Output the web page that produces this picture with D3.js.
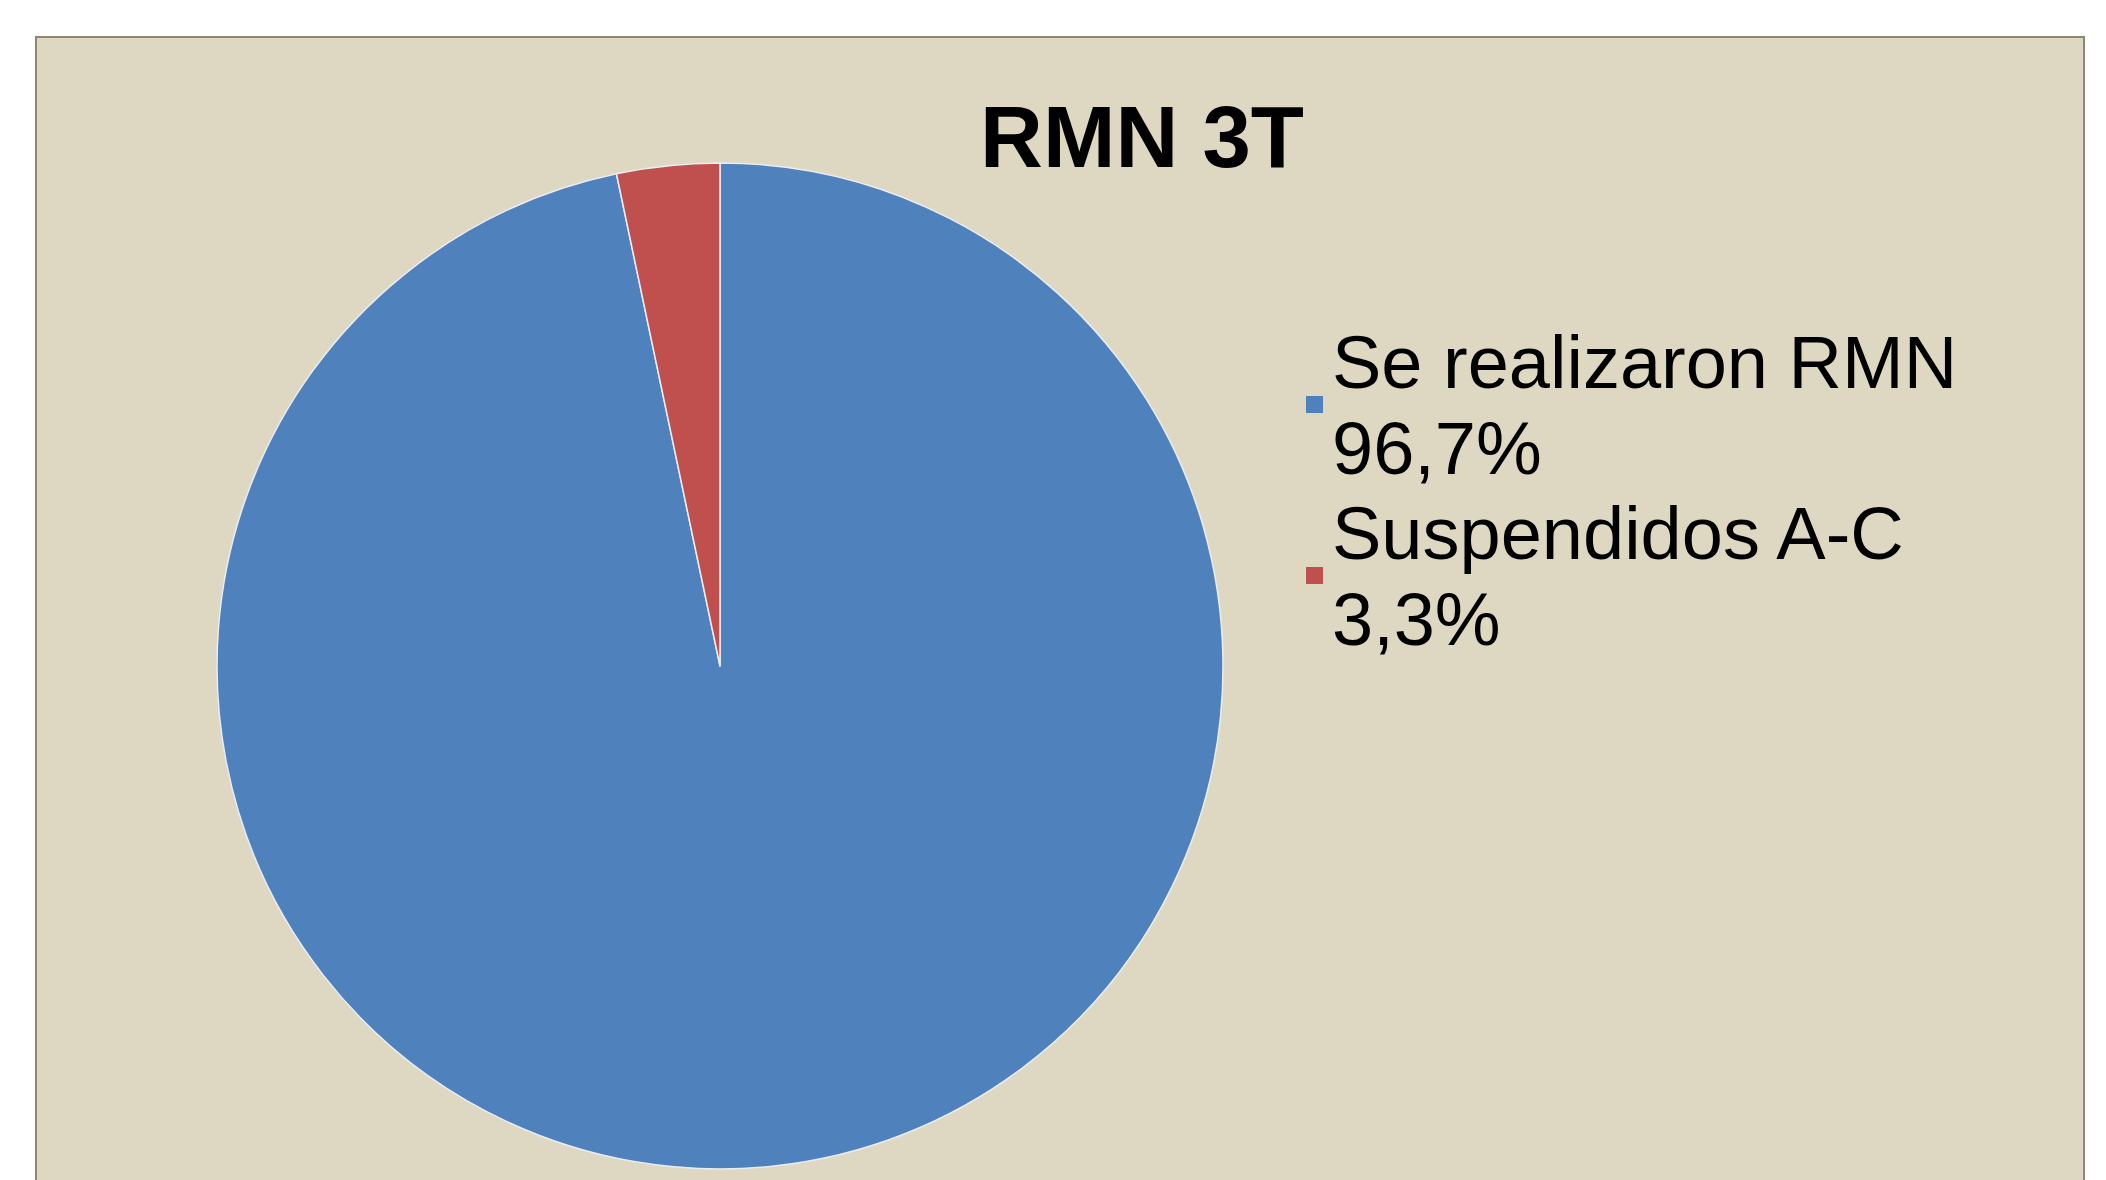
<!DOCTYPE html>
<html>
<head>
<meta charset="utf-8">
<script src="https://d3js.org/d3.v7.min.js"></script>
<style>
  html, body { margin: 0; padding: 0; background: #ffffff; }
  svg { display: block; }
  .title { font-family: "Liberation Sans", Arial, sans-serif; font-weight: bold; font-size: 87px; fill: #000; }
  .legend text { font-family: "Liberation Sans", Arial, sans-serif; font-size: 74px; fill: #000; }
</style>
</head>
<body>
<svg id="myGraph" width="2106" height="1180"></svg>
<script>
// data
var categories = ["Se realizaron RMN", "Suspendidos A-C"];
var values = [96.7, 3.3];
var valueLabels = ["96,7%", "3,3%"];
var colors = ["#4f81bd", "#c0504d"];

window.addEventListener("load", function(){
var svgWidth = 2106;
var svgHeight = 1180;
var cx = 720, cy = 666;   // centro del pastel
var radius = 503;

var svg = d3.select("#myGraph");

// fondo y marco del area del grafico
svg.append("rect")
  .attr("x", 36).attr("y", 37)
  .attr("width", 2048).attr("height", svgHeight)
  .attr("fill", "#ded8c3")
  .attr("stroke", "#8d8773")
  .attr("stroke-width", 2);

// titulo
svg.append("text")
  .attr("class", "title")
  .attr("x", 1142).attr("y", 167)
  .attr("text-anchor", "middle")
  .text("RMN 3T");

// pastel
var pie = d3.pie().sort(null);
var arc = d3.arc().innerRadius(0).outerRadius(radius);

svg.append("g")
  .attr("transform", "translate(" + cx + "," + cy + ")")
  .selectAll("path")
  .data(pie(values))
  .enter()
  .append("path")
  .attr("d", arc)
  .attr("fill", function(d, i){ return colors[i]; })
  .attr("stroke", "#e9ecf2")
  .attr("stroke-width", 1.5)
  .attr("stroke-linejoin", "round");

// leyenda
var lineH = 85.5;
var legend = svg.append("g")
  .attr("class", "legend")
  .attr("transform", "translate(1306, 388)");

var items = legend.selectAll("g")
  .data(categories)
  .enter()
  .append("g")
  .attr("transform", function(d, i){ return "translate(0," + (i * 2 * lineH) + ")"; });

items.append("rect")
  .attr("x", 0).attr("y", 8)
  .attr("width", 17).attr("height", 17)
  .attr("fill", function(d, i){ return colors[i]; });

items.append("text")
  .attr("x", 26).attr("y", 0)
  .text(function(d){ return d; });

items.append("text")
  .attr("x", 26).attr("y", lineH)
  .text(function(d, i){ return valueLabels[i]; });
});
</script>
</body>
</html>
